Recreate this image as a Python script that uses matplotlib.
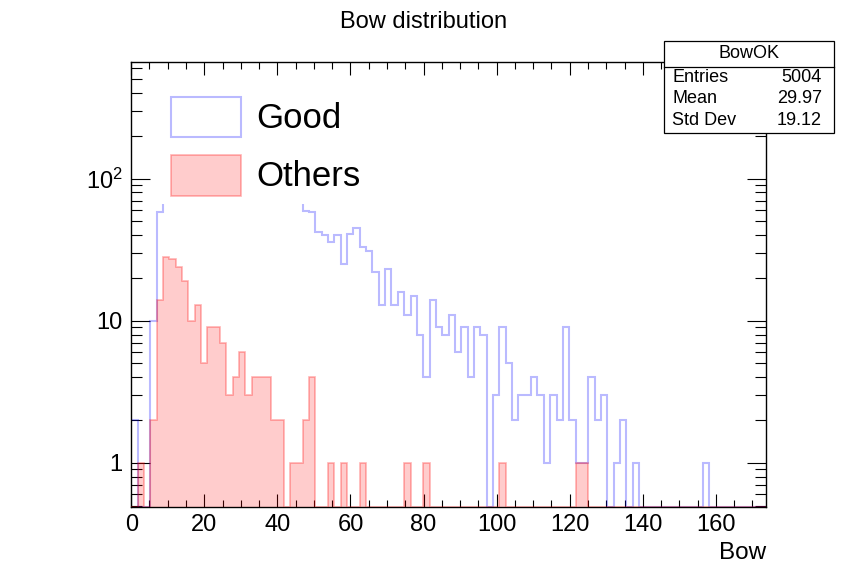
import numpy as np
import matplotlib
matplotlib.use('Agg')
import matplotlib.pyplot as plt
from matplotlib.patches import Rectangle
from matplotlib.lines import Line2D
from matplotlib.ticker import LogLocator, MultipleLocator, FixedLocator, FixedFormatter, NullFormatter

plt.rcParams['font.family'] = ['Liberation Sans', 'DejaVu Sans']
plt.rcParams['mathtext.fontset'] = 'custom'
plt.rcParams['mathtext.rm'] = 'Liberation Sans'
plt.rcParams['mathtext.default'] = 'regular'

# ---- data: 100 bins from 0 to 173.7 ----
n_bins = 100
x_max = 173.7

good = [2, 0, 0, 10, 58,
        120, 190, 240, 280, 290, 285, 260, 250, 240, 231, 215,
        205, 195, 185, 170, 160, 150, 140, 125, 110, 95, 80,
        59, 58, 42, 40, 36, 40, 25, 41, 45, 33, 31, 22, 13, 23,
        13, 16, 11, 15, 8,
        4, 14, 9, 8, 11, 6, 9, 4, 9, 8, 0, 3, 9, 5, 2, 3, 3, 4,
        3, 1, 3, 2, 9, 2, 1, 1, 4, 2, 3, 0, 1, 2, 0, 1,
        0, 0, 0, 0, 0, 0, 0, 0, 0, 0,
        1,
        0, 0, 0, 0, 0, 0, 0, 0, 0]

others = [0, 1, 0, 2, 14, 28, 27, 24, 19, 10, 13, 5, 9, 9, 7, 3,
          4, 6, 3, 4, 4, 4, 2, 2, 0, 1, 1, 2, 4, 0, 0, 1, 0, 1,
          0, 0, 1, 0, 0, 0, 0, 0, 0, 1, 0, 0, 1,
          0, 0, 0, 0, 0, 0, 0, 0, 0, 0, 0, 1,
          0, 0, 0, 0, 0, 0, 0, 0, 0, 0, 0, 1, 1] + [0] * 28

stat_names = ['Entries', 'Mean', 'Std Dev']
stat_values = ['5004', '29.97', '19.12']

W, H = 867, 568
ymin, ymax = 0.488, 667

def fx(px):
    return px / W

def fy(py):
    return 1 - py / H

edges = np.linspace(0, x_max, n_bins + 1)
good = np.array(good, dtype=float)
others = np.array(others, dtype=float)

blue = (0, 0, 1, 0.27)
red_fill = (1, 0, 0, 0.2)
red_edge = (1, 0, 0, 0.3)

fig = plt.figure(figsize=(W / 100, H / 100), dpi=100)
ax = fig.add_axes([fx(131.2), fy(507), fx(766) - fx(131.2), fy(61.7) - fy(507)])

ax.stairs(np.where(good > 0, good, ymin), edges, baseline=None,
          color=blue, lw=1.5, zorder=2)
oth = np.where(others > 0, others, ymin)
ax.stairs(oth, edges, baseline=ymin, fill=True, color=red_fill, lw=0, zorder=3)
ax.stairs(oth, edges, baseline=None, color=red_edge, lw=1.2, zorder=3)

ax.set_yscale('log')
ax.set_xlim(0, x_max)
ax.set_ylim(ymin, ymax)

ax.xaxis.set_major_locator(MultipleLocator(20))
ax.xaxis.set_minor_locator(MultipleLocator(5))
ax.yaxis.set_major_locator(FixedLocator([1, 10, 100]))
ax.yaxis.set_major_formatter(FixedFormatter(['1', '10', '10$^{2}$']))
ax.yaxis.set_minor_locator(LogLocator(base=10, subs=np.arange(2, 10)))
ax.yaxis.set_minor_formatter(NullFormatter())

ax.tick_params(axis='both', which='both', direction='in', top=True, right=True,
               width=0.8, color='black')
ax.tick_params(axis='x', which='major', length=9.5, labelsize=17, pad=5)
ax.tick_params(axis='x', which='minor', length=4.7)
ax.tick_params(axis='y', which='major', length=13.5, labelsize=17, pad=6)
ax.tick_params(axis='y', which='minor', length=7.8)
for s in ax.spines.values():
    s.set_linewidth(1.0)

fig.text(fx(766), fy(553), 'Bow', ha='right', va='center', fontsize=17.5)
fig.text(fx(424), fy(22), 'Bow distribution', ha='center', va='center', fontsize=17)

# legend (white box, no border)
ax.add_patch(Rectangle((fx(153), fy(204)), fx(305) - fx(153), fy(78) - fy(204),
                       transform=fig.transFigure, facecolor='white',
                       edgecolor='none', zorder=5))
ax.add_patch(Rectangle((fx(171), fy(137)), fx(241) - fx(171), fy(97) - fy(137),
                       transform=fig.transFigure, facecolor='white',
                       edgecolor=blue, lw=1.5, zorder=6))
ax.add_patch(Rectangle((fx(171), fy(196)), fx(241) - fx(171), fy(155) - fy(196),
                       transform=fig.transFigure, facecolor=red_fill,
                       edgecolor=red_edge, lw=1.2, zorder=6))
ax.text(fx(256), fy(119), 'Good', transform=fig.transFigure, fontsize=25,
        va='center', ha='left', zorder=7)
ax.text(fx(256), fy(177), 'Others', transform=fig.transFigure, fontsize=25,
        va='center', ha='left', zorder=7)

# stats box
fig.add_artist(Rectangle((fx(664), fy(132.5)), fx(834) - fx(664), fy(40.5) - fy(132.5),
                         transform=fig.transFigure, facecolor='white',
                         edgecolor='black', lw=0.9))
fig.add_artist(Line2D([fx(664), fx(834)], [fy(66.5), fy(66.5)],
                      transform=fig.transFigure, color='black', lw=0.9))
fig.text(fx(749), fy(53.5), 'BowOK', ha='center', va='center', fontsize=13)
for i in range(len(stat_names)):
    yy = fy(77.5 + 21.5 * i)
    fig.text(fx(672), yy, stat_names[i], ha='left', va='center', fontsize=13)
    fig.text(fx(822), yy, stat_values[i], ha='right', va='center', fontsize=13)

fig.savefig('out.png', dpi=100)
